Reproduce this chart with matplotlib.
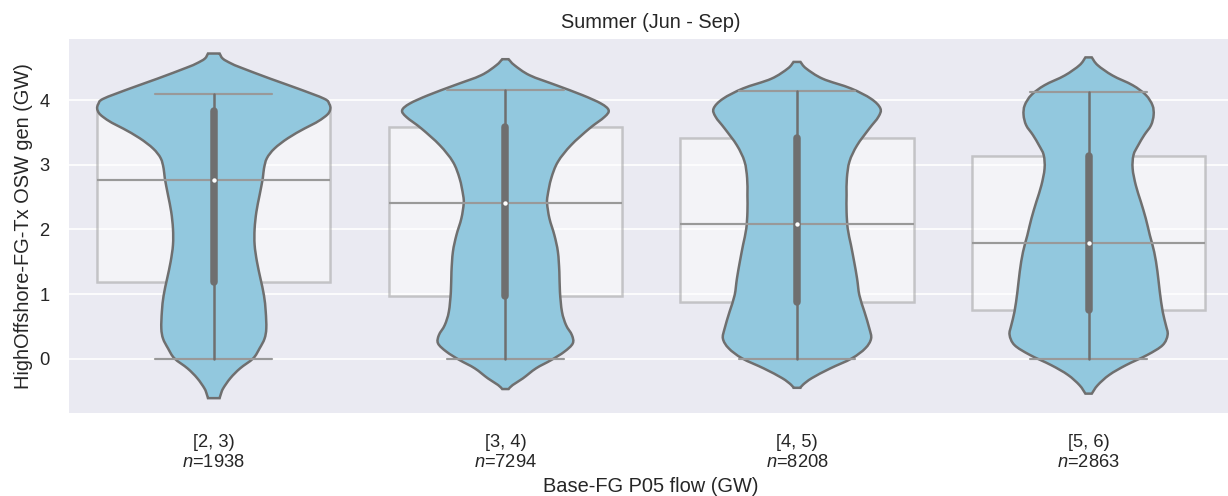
import matplotlib
matplotlib.use("Agg")
import matplotlib.pyplot as plt
import seaborn as sns
from matplotlib.path import Path
from matplotlib.patches import PathPatch

# flow bins on the x axis and the number of hours in each
bins = ["[2, 3)", "[3, 4)", "[4, 5)", "[5, 6)"]
counts = [1938, 7294, 8208, 2863]

# box statistics (GW)
q1 = [1.18, 0.97, 0.87, 0.75]
q3 = [3.83, 3.59, 3.41, 3.14]
medians = [2.77, 2.41, 2.09, 1.79]
whis_lo = [0.0, 0.0, 0.0, 0.0]
whis_hi = [4.10, 4.16, 4.14, 4.13]

# violin outlines: generation level (GW) and half-width (in category units)
v1_y = [4.72, 4.64, 4.565, 4.50, 4.33, 4.18, 4.02, 3.94, 3.87, 3.80, 3.74, 3.65,
        3.56, 3.41, 3.25, 3.10, 2.94, 2.79, 2.53, 2.27, 2.01, 1.76, 1.50, 1.24,
        0.98, 0.73, 0.47, 0.31, 0.16, 0.005, -0.15, -0.30, -0.46, -0.55, -0.61]
v1_w = [0.020, 0.031, 0.060, 0.094, 0.194, 0.287, 0.379, 0.396, 0.400, 0.394, 0.380, 0.350,
        0.311, 0.254, 0.208, 0.182, 0.172, 0.168, 0.157, 0.146, 0.140, 0.140, 0.148, 0.160,
        0.172, 0.178, 0.180, 0.174, 0.157, 0.135, 0.090, 0.057, 0.032, 0.024, 0.020]

v2_y = [4.632, 4.539, 4.384, 4.230, 4.075, 3.946, 3.843, 3.740, 3.560, 3.302, 3.045,
        2.787, 2.530, 2.401, 2.169, 1.911, 1.654, 1.345, 1.036, 0.726, 0.520, 0.366,
        0.237, 0.108, -0.021, -0.149, -0.304, -0.407, -0.469]
v2_w = [0.011, 0.031, 0.083, 0.174, 0.265, 0.328, 0.354, 0.340, 0.288, 0.225, 0.180,
        0.157, 0.145, 0.143, 0.151, 0.168, 0.180, 0.185, 0.187, 0.194, 0.208, 0.228,
        0.231, 0.202, 0.157, 0.105, 0.060, 0.025, 0.011]

v3_y = [4.59, 4.49, 4.33, 4.18, 4.02, 3.87, 3.74, 3.56, 3.30, 3.05, 2.79, 2.53, 2.27,
        2.01, 1.76, 1.50, 1.24, 0.98, 0.73, 0.47, 0.31, 0.16, 0.005, -0.15, -0.30,
        -0.40, -0.45]
v3_w = [0.012, 0.031, 0.088, 0.185, 0.254, 0.286, 0.279, 0.248, 0.206, 0.180, 0.171,
        0.170, 0.170, 0.174, 0.185, 0.196, 0.206, 0.214, 0.231, 0.248, 0.254, 0.234,
        0.188, 0.114, 0.051, 0.021, 0.012]

v4_y = [4.66, 4.54, 4.38, 4.23, 4.08, 3.92, 3.77, 3.61, 3.46, 3.30, 3.15, 2.94, 2.68,
        2.43, 2.17, 1.91, 1.65, 1.35, 1.04, 0.73, 0.52, 0.37, 0.21, 0.06, -0.10, -0.25,
        -0.41, -0.54]
v4_w = [0.011, 0.031, 0.082, 0.151, 0.196, 0.219, 0.223, 0.214, 0.191, 0.170, 0.154,
        0.151, 0.162, 0.179, 0.196, 0.210, 0.225, 0.236, 0.244, 0.254, 0.265, 0.271,
        0.254, 0.202, 0.128, 0.071, 0.031, 0.011]

violins = [(v1_y, v1_w), (v2_y, v2_w), (v3_y, v3_w), (v4_y, v4_w)]


def smooth_side(pts):
    """Bezier segments (Catmull-Rom style) running through the given points."""
    verts, codes = [], []
    n = len(pts)
    for k in range(n - 1):
        p0 = pts[max(k - 1, 0)]
        p1 = pts[k]
        p2 = pts[k + 1]
        p3 = pts[min(k + 2, n - 1)]
        c1 = (p1[0] + (p2[0] - p0[0]) / 6, p1[1] + (p2[1] - p0[1]) / 6)
        c2 = (p2[0] - (p3[0] - p1[0]) / 6, p2[1] - (p3[1] - p1[1]) / 6)
        verts += [c1, c2, p2]
        codes += [Path.CURVE4] * 3
    return verts, codes


def violin_patch(x, ys, ws, **kw):
    right = [(x + w, y) for y, w in zip(ys, ws)]
    left = [(x - w, y) for y, w in zip(ys[::-1], ws[::-1])]
    verts, codes = [right[0]], [Path.MOVETO]
    v, c = smooth_side(right)
    verts += v
    codes += c
    verts.append(left[0])
    codes.append(Path.LINETO)
    v, c = smooth_side(left)
    verts += v
    codes += c
    verts.append(right[0])
    codes.append(Path.CLOSEPOLY)
    return PathPatch(Path(verts, codes), **kw)


sns.set_theme(style="darkgrid")
plt.rcParams["font.family"] = ["Liberation Sans", "DejaVu Sans"]
plt.rcParams["mathtext.fontset"] = "custom"
plt.rcParams["mathtext.rm"] = "Liberation Sans"
plt.rcParams["mathtext.it"] = "Liberation Sans:italic"

violin_fill = "#92c8de"
violin_line = "#6f6f6f"
box_line = "#999999"

fig = plt.figure(figsize=(1228 / 120, 496 / 120), dpi=120)
ax = fig.add_axes([68 / 1228, 82 / 496, 1166.4 / 1228, 376 / 496])

# wide translucent boxes behind the violins
stats = [dict(med=m, q1=a, q3=b, whislo=lo, whishi=hi, fliers=[])
         for m, a, b, lo, hi in zip(medians, q1, q3, whis_lo, whis_hi)]
ax.bxp(stats, positions=range(len(bins)), widths=0.8, patch_artist=True,
       showfliers=False, manage_ticks=False,
       boxprops=dict(facecolor=(1, 1, 1, 0.45), edgecolor=(0.6, 0.6, 0.6, 0.5),
                     linewidth=1.5, zorder=1),
       whiskerprops=dict(color=box_line, linewidth=1.5, zorder=1),
       capprops=dict(color=box_line, linewidth=1.3, zorder=2.5),
       medianprops=dict(color=box_line, linewidth=1.3, zorder=2.5))

for i, (vy, vw) in enumerate(violins):
    ax.add_patch(violin_patch(i, vy, vw, facecolor=violin_fill,
                              edgecolor=violin_line, linewidth=1.5, zorder=2))
    # inner box of the violin
    ax.plot([i, i], [whis_lo[i], whis_hi[i]], color=violin_line, linewidth=1.5, zorder=3)
    ax.plot([i, i], [q1[i], q3[i]], color=violin_line, linewidth=4.5,
            solid_capstyle="round", zorder=3)
    ax.scatter([i], [medians[i]], s=7, color="white", linewidths=0, zorder=5)

ax.set_xlim(-0.5, 3.5)
ax.set_ylim(-0.855, 4.96)
ax.set_yticks([0, 1, 2, 3, 4])
ax.set_xticks(range(len(bins)))
ax.set_xticklabels([f"{b}\n$n$={n}" for b, n in zip(bins, counts)])
ax.xaxis.grid(False)
ax.tick_params(axis="both", labelsize=11, length=0)
ax.tick_params(axis="x", pad=12)
ax.tick_params(axis="y", pad=11)

ax.set_xlabel("Base-FG P05 flow (GW)", fontsize=12, labelpad=4)
ax.set_ylabel("HighOffshore-FG-Tx OSW gen (GW)", fontsize=12)
ax.set_title("Summer (Jun - Sep)", fontsize=12)

fig.savefig("out.png", dpi=120)
